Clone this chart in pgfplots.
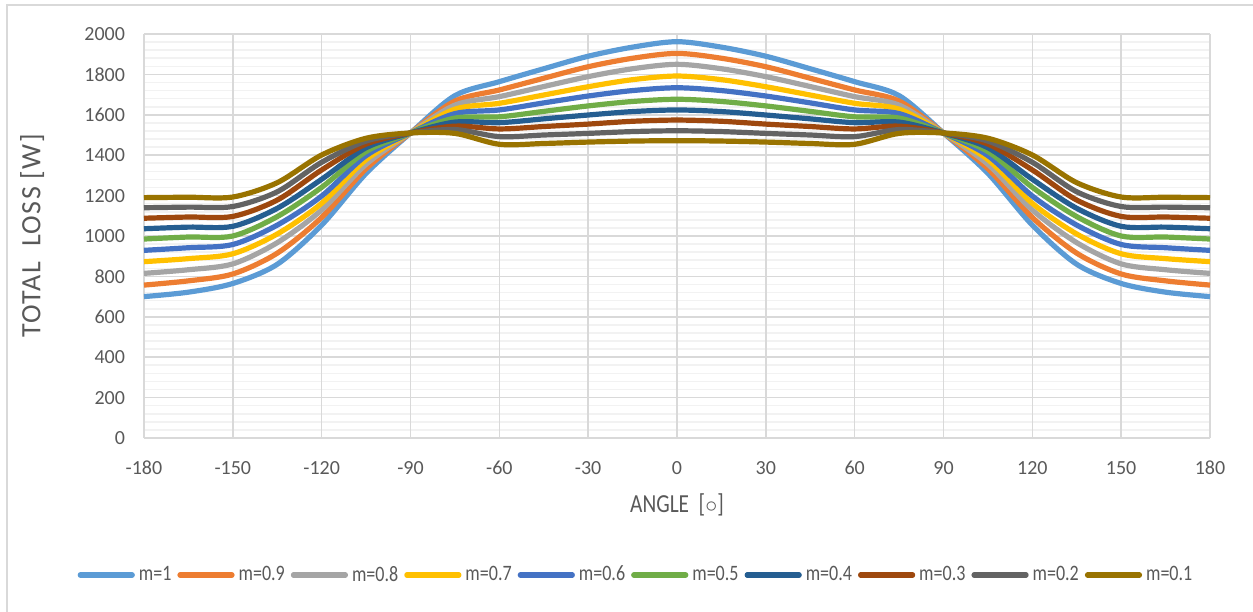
\documentclass[border=0pt]{standalone}
\usepackage{fontspec}
\setmainfont{Carlito}
\newfontfamily\condfont[FakeStretch=0.82]{Carlito}
\newfontfamily\spacedfont[LetterSpace=5]{Carlito}
\usepackage{pgfplots}
\usepackage{pgfplotstable}
\pgfplotsset{compat=1.18}
\definecolor{c1}{HTML}{5B9BD5}
\definecolor{c2}{HTML}{ED7D31}
\definecolor{c3}{HTML}{A5A5A5}
\definecolor{c4}{HTML}{FFC000}
\definecolor{c5}{HTML}{4472C4}
\definecolor{c6}{HTML}{70AD47}
\definecolor{c7}{HTML}{255E91}
\definecolor{c8}{HTML}{9E480E}
\definecolor{c9}{HTML}{636363}
\definecolor{c10}{HTML}{997300}
\definecolor{majg}{HTML}{D9D9D9}
\definecolor{ming}{HTML}{F2F2F2}
\definecolor{txt}{HTML}{595959}
\pgfplotstableread{
x    a    b    c    d    e    f    g    h    i    j
-180 700  757  815  873  929  985  1036 1088 1140 1190
-165 722  778  833  888  942  995  1044 1094 1143 1192
-150 765  812  862  912  958  1000 1048 1097 1146 1193
-135 860  915  967  1010 1054 1096 1137 1178 1219 1264
-120 1054 1092 1129 1162 1198 1241 1281 1327 1365 1401
-105 1310 1333 1355 1378 1398 1418 1437 1455 1470 1484
-90  1510 1510 1510 1510 1510 1510 1510 1510 1510 1510
-75  1695 1668 1648 1628 1606 1584 1564 1544 1527 1508
-60  1764 1723 1690 1657 1624 1590 1561 1530 1492 1454
-45  1828 1781 1740 1698 1659 1617 1580 1542 1500 1458
-30  1890 1838 1789 1739 1693 1644 1599 1554 1508 1465
-15  1935 1880 1828 1774 1720 1666 1616 1568 1517 1470
0    1962 1904 1850 1792 1734 1677 1624 1574 1521 1472
15   1935 1880 1828 1774 1720 1666 1616 1568 1517 1470
30   1890 1838 1789 1739 1693 1644 1599 1554 1508 1465
45   1828 1781 1740 1698 1659 1617 1580 1542 1500 1458
60   1764 1723 1690 1657 1624 1590 1561 1530 1492 1454
75   1695 1668 1648 1628 1606 1584 1564 1544 1527 1508
90   1510 1510 1510 1510 1510 1510 1510 1510 1510 1510
105  1310 1333 1355 1378 1398 1418 1437 1455 1470 1484
120  1054 1092 1129 1162 1198 1241 1281 1327 1365 1401
135  860  915  967  1010 1054 1096 1137 1178 1219 1264
150  765  812  862  912  958  1000 1048 1097 1146 1193
165  722  778  833  888  942  995  1044 1094 1143 1192
180  700  757  815  873  929  985  1036 1088 1140 1190
}\loss
\begin{document}
\begin{tikzpicture}
\path[use as bounding box] (0,0) rectangle (626.5pt,-305.5pt);
\draw[majg, line width=0.6pt] (3.5pt,-306pt) -- (3.5pt,-2.5pt) -- (627pt,-2.5pt);
\begin{axis}[
  at={(72pt,-219pt)}, anchor=south west,
  scale only axis, width=533pt, height=202pt,
  xmin=-180, xmax=180, ymin=0, ymax=2000,
  xtick=\empty,
  extra x ticks={-180,-150,...,180},
  extra x tick style={xmajorgrids=true, major grid style={majg, line width=0.8pt}},
  ytick={0,200,...,2000},
  minor y tick num=4,
  ymajorgrids=true, yminorgrids=true,
  major grid style={majg, line width=0.8pt},
  minor grid style={ming, line width=0.8pt},
  axis line style={draw=none},
  major tick length=0pt, minor tick length=0pt,
  tick style={draw=none},
  /pgf/number format/assume math mode=true,
  /pgf/number format/1000 sep={},
  tick label style={font=\fontsize{10}{12}\selectfont, text=txt},
  yticklabel style={xshift=-6pt},
  xticklabel style={yshift=-8pt},
  xlabel={ANGLE\ \ [$\circ$]},
  ylabel={TOTAL\ \ LOSS [W]},
  xlabel style={font=\condfont\fontsize{13}{15}\selectfont, text=txt,
    at={(axis description cs:0.5,-0.166)}, anchor=center},
  ylabel style={font=\spacedfont\fontsize{14}{16}\selectfont, text=txt,
    at={(axis description cs:-0.105,0.5)}, anchor=center},
  legend columns=10,
  legend style={at={(axis description cs:0.5,0)}, anchor=center, yshift=-68.5pt, xshift=-20pt,
    draw=none, fill=none, font=\condfont\fontsize{11}{13}\selectfont, text=txt,
    /tikz/every even column/.append style={column sep=1pt},
    /tikz/every odd column/.append style={column sep=0pt},
    inner sep=0pt},
  legend cell align=left,
  legend image code/.code={\draw[#1, line cap=round] (0pt,0pt) -- (26pt,0pt);},
  every axis plot/.append style={line width=2.6pt, smooth, tension=0.5, no marks},
]
\addplot[c1] table[x=x,y=a] {\loss}; \addlegendentry{m=1}
\addplot[c2] table[x=x,y=b] {\loss}; \addlegendentry{m=0.9}
\addplot[c3] table[x=x,y=c] {\loss}; \addlegendentry{m=0.8}
\addplot[c4] table[x=x,y=d] {\loss}; \addlegendentry{m=0.7}
\addplot[c5] table[x=x,y=e] {\loss}; \addlegendentry{m=0.6}
\addplot[c6] table[x=x,y=f] {\loss}; \addlegendentry{m=0.5}
\addplot[c7] table[x=x,y=g] {\loss}; \addlegendentry{m=0.4}
\addplot[c8] table[x=x,y=h] {\loss}; \addlegendentry{m=0.3}
\addplot[c9] table[x=x,y=i] {\loss}; \addlegendentry{m=0.2}
\addplot[c10] table[x=x,y=j] {\loss}; \addlegendentry{m=0.1}
\end{axis}
\end{tikzpicture}
\end{document}
